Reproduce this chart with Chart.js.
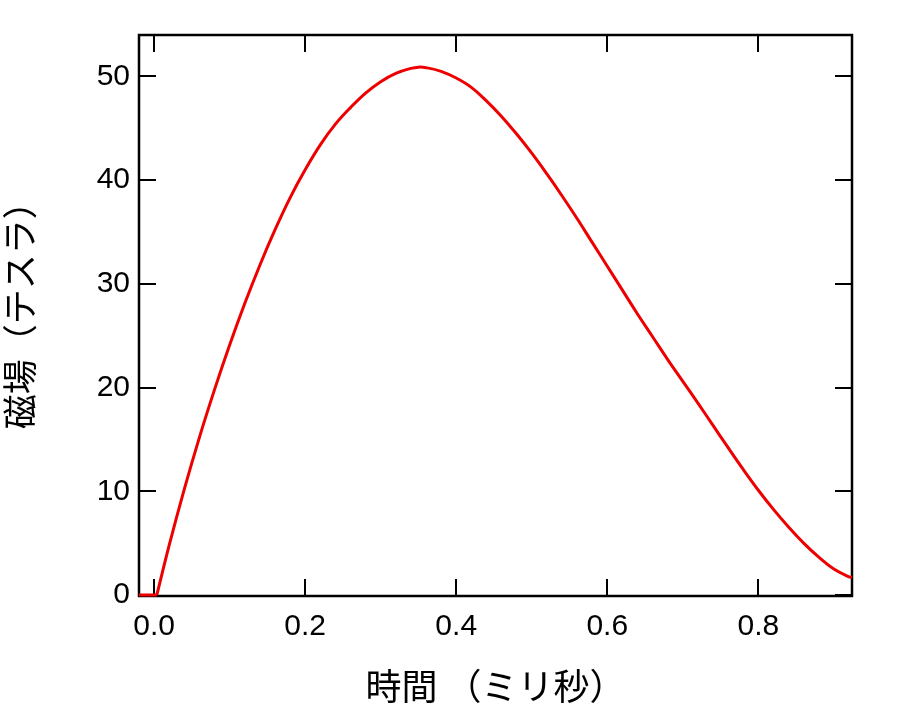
<!DOCTYPE html>
<html>
<head>
<meta charset="utf-8">
<script src="https://cdn.jsdelivr.net/npm/chart.js@4"></script>
<style>
  html, body { margin: 0; padding: 0; background: #fff; }
  #wrap { width: 924px; height: 704px; }
</style>
</head>
<body>
<div id="wrap"><canvas id="fieldChart" width="924" height="704"></canvas></div>
<script>
// ===== DATA =====
const timeMs = [-0.02, 0.0036, 0.02, 0.04, 0.06, 0.08, 0.10, 0.12, 0.14, 0.16, 0.18, 0.20,
                0.22, 0.24, 0.26, 0.28, 0.30, 0.32, 0.34, 0.35, 0.36, 0.38, 0.40, 0.42, 0.44,
                0.46, 0.48, 0.50, 0.52, 0.54, 0.56, 0.58, 0.60, 0.62, 0.64, 0.66, 0.68,
                0.70, 0.72, 0.74, 0.76, 0.78, 0.80, 0.82, 0.84, 0.86, 0.88, 0.90, 0.92, 0.924];
const fieldT = [0, 0, 4.8, 10.2, 15.2, 19.8, 24.1, 28.1, 31.8, 35.2, 38.3, 41.0,
                43.4, 45.4, 47.0, 48.4, 49.5, 50.3, 50.78, 50.9, 50.85, 50.5, 49.85, 48.95, 47.65,
                46.15, 44.45, 42.6, 40.6, 38.5, 36.3, 34.0, 31.7, 29.4, 27.1, 24.9, 22.7,
                20.6, 18.5, 16.35, 14.2, 12.1, 10.1, 8.25, 6.55, 5.0, 3.65, 2.5, 1.75, 1.7];
const xTicks = [0.0, 0.2, 0.4, 0.6, 0.8];
const yTicks = [0, 10, 20, 30, 40, 50];
const xTitle = "時間 （ミリ秒）";
const yTitle = "\u2002磁場（テスラ）";

const TICK_LEN = 17;
const LATIN = "'Liberation Sans', Arial, sans-serif";
const CJK = "'Noto Sans CJK JP', 'Noto Sans', sans-serif";

const points = timeMs.map((t, i) => ({ x: t, y: fieldT[i] }));

// frame + inward ticks on all four sides
const frameTicks = {
  id: "frameTicks",
  beforeDatasetsDraw(chart) {
    const { ctx, chartArea: a, scales: { x, y } } = chart;
    ctx.save();
    ctx.strokeStyle = "#000";
    ctx.lineWidth = 2;
    ctx.beginPath();
    xTicks.forEach(v => {
      const px = Math.round(x.getPixelForValue(v));
      ctx.moveTo(px, a.bottom); ctx.lineTo(px, a.bottom - TICK_LEN);
      ctx.moveTo(px, a.top); ctx.lineTo(px, a.top + TICK_LEN);
    });
    yTicks.forEach(v => {
      const py = Math.round(y.getPixelForValue(v));
      ctx.moveTo(a.left, py); ctx.lineTo(a.left + TICK_LEN, py);
      ctx.moveTo(a.right, py); ctx.lineTo(a.right - TICK_LEN, py);
    });
    ctx.stroke();
    ctx.lineWidth = 2.5;
    ctx.strokeRect(a.left, a.top, a.right - a.left, a.bottom - a.top);
    ctx.restore();
  }
};

const lineStyle = { borderColor: "#ee0000", borderWidth: 3, pointRadius: 0, clip: 2 };

new Chart(document.getElementById("fieldChart").getContext("2d"), {
  type: "line",
  data: {
    datasets: [
      // flat pre-trigger part (sharp corner at the start of the pulse)
      { ...lineStyle, data: points.slice(0, 2), tension: 0 },
      { ...lineStyle, data: points.slice(1), tension: 0.4 }
    ]
  },
  options: {
    responsive: false,
    animation: false,
    events: [],
    layout: { padding: { left: 0, top: 35, right: 72, bottom: 0 } },
    plugins: { legend: { display: false }, tooltip: { enabled: false } },
    scales: {
      x: {
        type: "linear",
        min: -0.02,
        max: 0.924,
        afterBuildTicks: s => { s.ticks = xTicks.map(v => ({ value: v })); },
        afterFit: s => { s.height = 108; },
        grid: { display: false, drawTicks: false },
        border: { display: false },
        ticks: {
          color: "#000",
          padding: 13,
          font: { family: LATIN, size: 30 },
          maxRotation: 0,
          autoSkip: false,
          callback: v => v.toFixed(1)
        },
        title: {
          display: true,
          text: xTitle,
          color: "#000",
          font: { family: CJK, size: 36, lineHeight: 1 },
          padding: 0
        }
      },
      y: {
        type: "linear",
        min: -0.1,
        max: 54,
        afterBuildTicks: s => { s.ticks = yTicks.map(v => ({ value: v })); },
        afterFit: s => { s.width = 139; },
        grid: { display: false, drawTicks: false },
        border: { display: false },
        ticks: {
          color: "#000",
          padding: 9,
          font: { family: LATIN, size: 30 },
          autoSkip: false,
          callback: v => String(v)
        },
        title: {
          display: true,
          text: yTitle,
          color: "#000",
          font: { family: CJK, size: 35, lineHeight: 1.1 },
          padding: 0
        }
      }
    }
  },
  plugins: [frameTicks]
});
</script>
</body>
</html>
